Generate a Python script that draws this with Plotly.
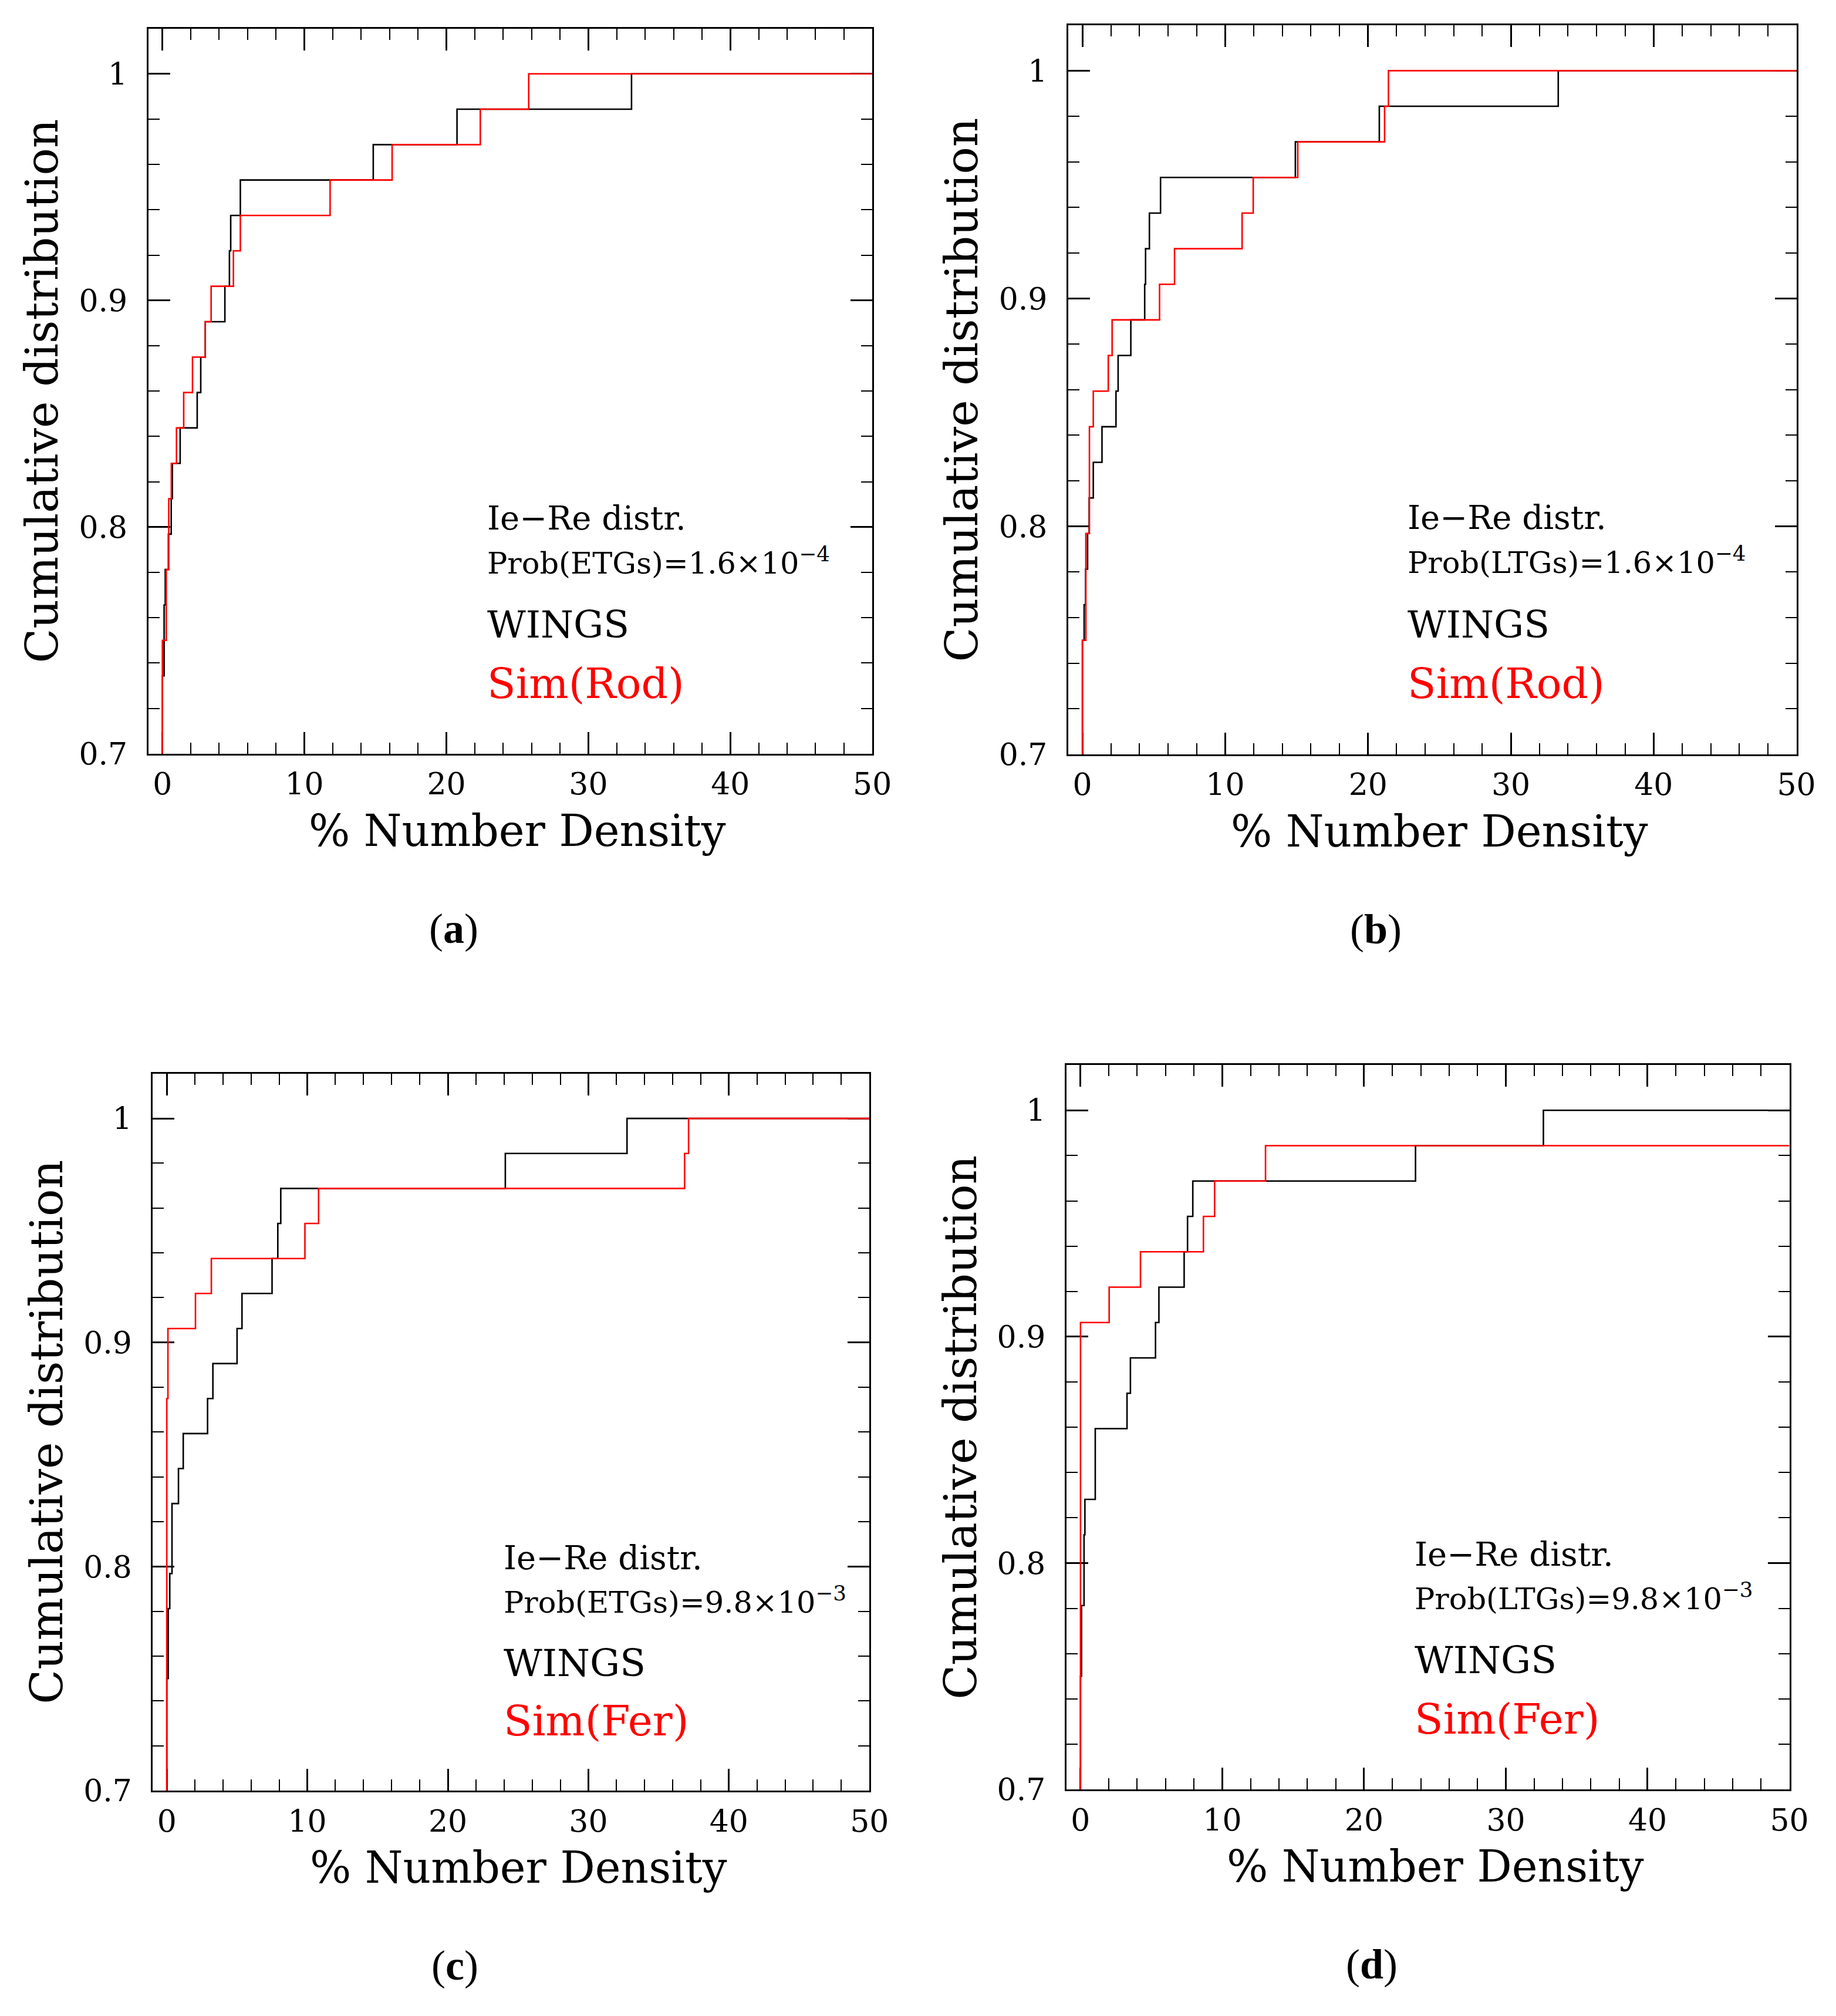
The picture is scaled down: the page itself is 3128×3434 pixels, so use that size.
import plotly.graph_objects as go

N_GAL = 64

# step positions (% number density) and cumulative counts after each step
black_a_x = [0, 0.12, 0.2, 0.42, 0.62, 0.7, 1.25, 2.45, 2.7, 3.02, 4.4, 4.72, 4.81, 5.49, 14.85, 20.75, 33.04]
black_a_k = [47, 49, 50, 51, 52, 53, 54, 55, 56, 57, 58, 59, 60, 61, 62, 63, 64]
red_a_x = [0, 0.27, 0.45, 0.63, 0.99, 1.5, 2.12, 3.02, 3.43, 5.0, 5.49, 11.81, 16.18, 22.39, 25.8]
red_a_k = [48, 50, 52, 53, 54, 55, 56, 57, 58, 59, 60, 61, 62, 63, 64]

black_b_x = [0, 0.12, 0.22, 0.36, 0.47, 0.76, 1.37, 2.35, 2.5, 3.39, 4.36, 4.42, 4.69, 5.47, 14.91, 20.79, 33.32]
black_b_k = [48, 49, 50, 51, 52, 53, 54, 55, 56, 57, 58, 59, 60, 61, 62, 63, 64]
red_b_x = [0, 0.24, 0.49, 0.76, 1.81, 2.08, 5.4, 6.45, 11.18, 11.96, 15.08, 21.16, 21.43]
red_b_k = [48, 51, 54, 55, 56, 57, 58, 59, 60, 61, 62, 63, 64]

black_c_x = [0, 0.1, 0.21, 0.37, 0.83, 1.17, 2.9, 3.28, 5.0, 5.35, 7.49, 7.9, 8.11, 24.09, 32.75]
black_c_k = [48, 50, 51, 53, 54, 55, 56, 57, 58, 59, 60, 61, 62, 63, 64]
red_c_x = [0, 0.08, 2.04, 3.17, 9.83, 10.8, 36.85, 37.13]
red_c_k = [56, 58, 59, 60, 61, 62, 63, 64]

black_d_x = [0, 0.07, 0.25, 0.31, 1.04, 3.28, 3.52, 5.29, 5.53, 7.31, 7.55, 7.92, 23.63, 32.65]
black_d_k = [48, 50, 52, 53, 55, 56, 57, 58, 59, 60, 61, 62, 63, 64]
red_d_x = [0, 2.02, 4.23, 8.67, 9.46, 13.05]
red_d_k = [58, 59, 60, 61, 62, 63]

x_ticks = [0, 10, 20, 30, 40, 50]
y_ticks = [0.7, 0.8, 0.9, 1.0]
y_ticktext = ["0.7", "0.8", "0.9", "1"]

panels = [
    dict(name="a", black=(black_a_x, black_a_k), red=(red_a_x, red_a_k), gal="ETGs",
         prob="1.6×10<sup>−4</sup>", sim="Sim(Rod)", dx=[0.0790, 0.4776], dy=[0.6252, 0.9881], tx=22.8),
    dict(name="b", black=(black_b_x, black_b_k), red=(red_b_x, red_b_k), gal="LTGs",
         prob="1.6×10<sup>−4</sup>", sim="Sim(Rod)", dx=[0.5854, 0.9863], dy=[0.6249, 0.9898], tx=22.7),
    dict(name="c", black=(black_c_x, black_c_k), red=(red_c_x, red_c_k), gal="ETGs",
         prob="9.8×10<sup>−3</sup>", sim="Sim(Fer)", dx=[0.0815, 0.4760], dy=[0.1063, 0.4651], tx=23.9),
    dict(name="d", black=(black_d_x, black_d_k), red=(red_d_x, red_d_k), gal="LTGs",
         prob="9.8×10<sup>−3</sup>", sim="Sim(Fer)", dx=[0.5844, 0.9824], dy=[0.1069, 0.4694], tx=23.5),
]

FONT = "DejaVu Serif"


def step_xy(xs, ks):
    # vertical from the bottom at the first step, flat to the right edge
    x = [xs[0]] + list(xs) + [50]
    y = [0] + [k / N_GAL for k in ks] + [ks[-1] / N_GAL]
    return x, y


fig = go.Figure()
annotations = []

for i, p in enumerate(panels):
    sfx = "" if i == 0 else str(i + 1)
    xref, yref = "x" + sfx, "y" + sfx
    for (xs, ks), color in [(p["black"], "black"), (p["red"], "#ff0000")]:
        x, y = step_xy(xs, ks)
        fig.add_trace(go.Scatter(x=x, y=y, mode="lines", line_shape="hv",
                                 line=dict(color=color, width=2.6),
                                 xaxis=xref, yaxis=yref, showlegend=False,
                                 hoverinfo="skip"))

    fig.layout["xaxis" + sfx] = dict(
        domain=p["dx"], anchor=yref, range=[-1, 50], tickvals=x_ticks,
        ticks="inside", ticklen=37, tickwidth=2.5, tickcolor="black",
        minor=dict(tickmode="linear", tick0=0, dtick=2, ticks="inside",
                   ticklen=19, tickwidth=2.2, tickcolor="black"),
        showline=True, linecolor="black", linewidth=3, mirror="ticks",
        showgrid=False, zeroline=False, ticklabelstandoff=4, layer="below traces",
        tickfont=dict(family=FONT, size=52, color="black"))
    fig.layout["yaxis" + sfx] = dict(
        domain=p["dy"], anchor=xref, range=[0.7, 1.02], tickvals=y_ticks,
        ticktext=y_ticktext,
        ticks="inside", ticklen=37, tickwidth=2.5, tickcolor="black",
        minor=dict(tickmode="linear", tick0=0.7, dtick=0.02, ticks="inside",
                   ticklen=19, tickwidth=2.2, tickcolor="black"),
        showline=True, linecolor="black", linewidth=3, mirror="ticks",
        showgrid=False, zeroline=False, ticklabelstandoff=22, layer="below traces",
        tickfont=dict(family=FONT, size=52, color="black"))

    lines = [("Ie−Re distr.", 0.804, 56, "black"),
             ("Prob(" + p["gal"] + ")=" + p["prob"], 0.785, 51, "black"),
             ("WINGS", 0.757, 64, "black"),
             (p["sim"], 0.731, 71, "#ff0000")]
    for txt, yv, fs, col in lines:
        annotations.append(dict(x=p["tx"], y=yv, xref=xref, yref=yref, text=txt,
                                showarrow=False, xanchor="left", yanchor="middle",
                                font=dict(family=FONT, size=fs, color=col)))

    xc = (p["dx"][0] + p["dx"][1]) / 2 + 0.004
    yc = (p["dy"][0] + p["dy"][1]) / 2
    annotations.append(dict(x=xc, y=p["dy"][0] - 0.0385, xref="paper", yref="paper",
                            text="% Number Density", showarrow=False,
                            xanchor="center", yanchor="middle",
                            font=dict(family=FONT, size=74, color="black")))
    annotations.append(dict(x=p["dx"][0] - 0.0585, y=yc, xref="paper", yref="paper",
                            text="Cumulative distribution", showarrow=False,
                            textangle=-90, xanchor="center", yanchor="middle",
                            font=dict(family=FONT, size=77, color="black")))
    annotations.append(dict(x=xc - 0.035, y=p["dy"][0] - 0.0875, xref="paper", yref="paper",
                            text="(<b>" + p["name"] + "</b>)", showarrow=False,
                            xanchor="center", yanchor="middle",
                            font=dict(family="Liberation Serif", size=72, color="black")))

fig.update_layout(width=3128, height=3434, margin=dict(l=0, r=0, t=0, b=0),
                  paper_bgcolor="white", plot_bgcolor="white",
                  annotations=annotations)

fig.write_html("out.html")
